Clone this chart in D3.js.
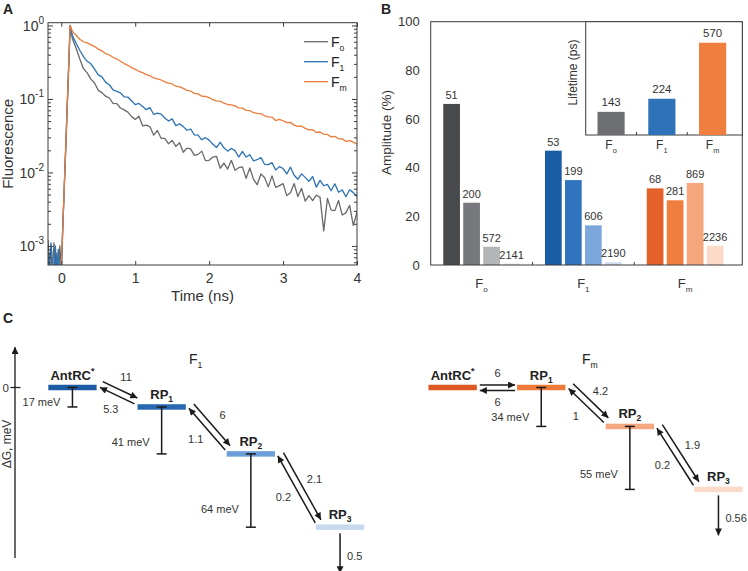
<!DOCTYPE html>
<html><head><meta charset="utf-8">
<script src="https://cdn.jsdelivr.net/npm/d3@7/dist/d3.min.js"></script>
<style>
html,body{margin:0;padding:0;background:#fff;}
svg{display:block;font-family:"Liberation Sans",Arial,Helvetica,sans-serif;}
</style></head><body>
<svg id="chart" width="748" height="571"></svg>
<script>
// ================= DATA =================
// Panel A: fluorescence decays (time in ns)
const timeNs = [-0.18,-0.16,-0.14,-0.12,-0.10,-0.08,-0.06,-0.04,-0.02,0.00,
  0.02,0.04,0.06,0.08,0.10,0.12,
  0.15,0.20,0.25,0.30,0.35,0.40,0.45,0.50,0.55,0.60,0.65,0.70,0.75,0.80,0.85,0.90,0.95,1.00,
  1.05,1.10,1.15,1.20,1.25,1.30,1.35,1.40,1.45,1.50,1.55,1.60,1.65,1.70,1.75,1.80,1.85,1.90,1.95,2.00,
  2.05,2.10,2.15,2.20,2.25,2.30,2.35,2.40,2.45,2.50,2.55,2.60,2.65,2.70,2.75,2.80,2.85,2.90,2.95,3.00,
  3.05,3.10,3.15,3.20,3.25,3.30,3.35,3.40,3.45,3.50,3.55,3.60,3.65,3.70,3.75,3.80,3.85,3.90,3.95,4.00];
const fluorFo = [0.0012,0.0006,0.0009,0.0004,0.0011,0.0005,0.0008,0.0004,0.0010,0.0005,
  0.0018,0.0063,0.022,0.079,0.28,1.0,
  0.658,0.49,0.350,0.258,0.226,0.186,0.165,0.131,0.122,0.109,
  0.103,0.0871,0.0864,0.0753,0.0711,0.0661,0.0575,0.0527,0.0581,0.0429,
  0.0441,0.0417,0.0321,0.0372,0.0292,0.0291,0.0245,0.0273,0.0226,0.0254,
  0.0188,0.0214,0.0209,0.0171,0.0176,0.0195,0.0145,0.0146,0.0162,0.0165,
  0.0114,0.0134,0.0111,0.0146,0.0107,0.0116,0.0119,0.00830,0.0115,0.00804,
  0.00680,0.00954,0.00855,0.00636,0.00897,0.00627,0.00662,0.00705,0.00484,0.00529,
  0.00705,0.00470,0.00608,0.00406,0.00483,0.00413,0.00492,0.00457,0.00160,0.00444,
  0.00307,0.00302,0.00415,0.00263,0.00282,0.00357,0.00190,0.00286];
const fluorF1 = [0.0008,0.0004,0.0011,0.0006,0.0004,0.0010,0.0004,0.0009,0.0005,0.0004,
  0.0018,0.0063,0.022,0.079,0.28,1.0,
  0.73,0.57,0.46,0.377,0.325,0.301,0.255,0.213,0.200,0.168,
  0.156,0.133,0.127,0.121,0.107,0.106,0.0945,0.0836,0.0867,0.0791,
  0.0715,0.0760,0.0615,0.0640,0.0621,0.0551,0.0501,0.0535,0.0434,0.0459,
  0.0420,0.0375,0.0390,0.0324,0.0321,0.0278,0.0297,0.0275,0.0242,0.0219,
  0.0257,0.0216,0.0195,0.0212,0.0198,0.0162,0.0193,0.0162,0.0174,0.0144,
  0.0149,0.0159,0.0129,0.0128,0.0136,0.0108,0.0120,0.0113,0.00953,0.0118,
  0.00917,0.00809,0.00955,0.00857,0.00756,0.00880,0.00630,0.00780,0.00659,0.00688,
  0.00563,0.00700,0.00537,0.00578,0.00466,0.00580,0.00531,0.00471];
const fluorFm = [0.0003,0.0003,0.0003,0.0003,0.0003,0.0003,0.0003,0.0003,0.0003,0.0005,
  0.0018,0.0063,0.022,0.079,0.28,1.0,
  0.832,0.735,0.650,0.600,0.578,0.548,0.516,0.476,0.450,0.414,
  0.396,0.369,0.349,0.326,0.303,0.287,0.267,0.253,0.238,0.228,
  0.214,0.207,0.193,0.188,0.181,0.171,0.164,0.160,0.149,0.146,
  0.139,0.131,0.128,0.119,0.117,0.109,0.108,0.104,0.0975,0.0942,
  0.0935,0.0874,0.0840,0.0832,0.0805,0.0755,0.0750,0.0700,0.0695,0.0650,
  0.0638,0.0630,0.0590,0.0570,0.0566,0.0508,0.0528,0.0505,0.0476,0.0480,
  0.0440,0.0424,0.0425,0.0398,0.0380,0.0382,0.0350,0.0355,0.0330,0.0329,
  0.0305,0.0310,0.0287,0.0286,0.0265,0.0270,0.0258,0.0242];
const seriesSub = ["o","1","m"];
const xTicksA = [0,1,2,3,4];
const yTickExpA = [0,-1,-2,-3];

// Panel B: amplitudes (%) and lifetimes (ps)
const groupSub = ["o","1","m"];
const ampFo = [66.2,25.6,7.5,0.6];
const ampF1 = [47.0,34.9,16.3,1.1];
const ampFm = [31.5,26.6,33.7,7.9];
const tauFo = [51,200,572,2141];
const tauF1 = [53,199,606,2190];
const tauFm = [68,281,869,2236];
const avgLifetime = [143,224,570];
const yTicksB = [0,20,40,60,80,100];

// Panel C: kinetic schemes
const stateNames = ["AntRC","RP","RP","RP"];
const stateSub = ["","1","2","3"];
const energyF1 = [0,-17,-58,-122];
const gapF1 = [17,41,64,null];
const fwdF1 = [11,6,2.1];
const backF1 = [5.3,1.1,0.2];
const decayF1 = 0.5;
const energyFm = [0,0,-34,-89];
const gapFm = [null,34,55,null];
const fwdFm = [6,4.2,1.9];
const backFm = [6,1,0.2];
const decayFm = 0.56;

// ================= STYLE =================
const lineColors = ["#68696b","#2b72b5","#ec7c3a"];
const barColors = [["#48494b","#77787b","#b4b5b7","#e2e2e4"],
                   ["#1b5ca7","#2f74bd","#7ca7dc","#cddcf0"],
                   ["#e4612a","#f07f3f","#f6a67c","#fbdac7"]];
const insetColors = ["#6e6f72","#2e72b9","#f07f3f"];
const levelColorsF1 = ["#1d5ca4","#2868b1","#6c9fd7","#c8daef"];
const levelColorsFm = ["#dc5a22","#ef7b3b","#f4a67e","#fbdac8"];
const axisCol = "#3a3a3a", textCol = "#333";

const svg = d3.select("#chart");
const defs = svg.append("defs");

function panelLetter(x,y,t){
  svg.append("text").attr("x",x).attr("y",y).attr("font-size",14).attr("font-weight","bold").attr("fill","#222").text(t);
}
function fText(g,x,y,sub,size,anchor,col){
  const t = g.append("text").attr("x",x).attr("y",y).attr("font-size",size)
    .attr("text-anchor",anchor||"middle").attr("fill",col||textCol);
  t.append("tspan").text("F");
  t.append("tspan").attr("font-size",size*0.62).attr("dy",size*0.32).text(sub);
  return t;
}

// ================= PANEL A =================
panelLetter(3,14,"A");
const A = {l:48,r:357,t:22.7,b:265};
const xA = d3.scaleLinear().domain([-0.18,4]).range([A.l,A.r]);
const yA = d3.scaleLog().domain([5.5e-4,1.09]).range([A.b,A.t]);
const gA = svg.append("g");
defs.append("clipPath").attr("id","clipA").append("rect")
  .attr("x",A.l).attr("y",A.t).attr("width",A.r-A.l).attr("height",A.b-A.t);

const line = d3.line().x((d,i)=>xA(timeNs[i])).y(d=>yA(d));
const seriesA = [fluorFo,fluorF1,fluorFm];
const gLines = gA.append("g").attr("clip-path","url(#clipA)");
seriesA.forEach((s,k)=>{
  gLines.append("path").datum(s).attr("d",line).attr("fill","none")
    .attr("stroke",lineColors[k]).attr("stroke-width",1.3).attr("stroke-linejoin","round");
});

const majorsA = yTickExpA.map(e=>Math.pow(10,e));
const minorsA = yA.ticks().filter(v=>!majorsA.some(m=>Math.abs(m-v)/m<1e-6));
function styleAxis(g){
  g.select(".domain").remove();
  g.selectAll(".tick line").attr("stroke",axisCol);
  g.selectAll(".tick text").attr("fill",textCol).attr("font-family",null);
}
// bottom
gA.append("g").attr("transform",`translate(0,${A.b})`)
  .call(d3.axisBottom(xA).tickValues(xTicksA).tickSizeInner(-4).tickSizeOuter(0).tickPadding(8).tickFormat(d3.format("d")))
  .call(styleAxis).call(g=>g.selectAll("text").attr("font-size",14));
// top
gA.append("g").attr("transform",`translate(0,${A.t})`)
  .call(d3.axisTop(xA).tickValues(xTicksA).tickSizeInner(-4).tickSizeOuter(0).tickFormat(""))
  .call(styleAxis);
// left majors with labels
const leftA = gA.append("g").attr("transform",`translate(${A.l},0)`)
  .call(d3.axisLeft(yA).tickValues(majorsA).tickSizeInner(-5).tickSizeOuter(0).tickFormat(""))
  .call(styleAxis);
leftA.selectAll(".tick").each(function(d,i){
  const t = d3.select(this).append("text").attr("x",-4).attr("y",0).attr("dy","0.35em")
    .attr("text-anchor","end").attr("font-size",14).attr("fill",textCol);
  t.append("tspan").text("10");
  t.append("tspan").attr("font-size",10).attr("dy",-7).text(yTickExpA[i]);
});
gA.append("g").attr("transform",`translate(${A.l},0)`)
  .call(d3.axisLeft(yA).tickValues(minorsA).tickSizeInner(-3).tickSizeOuter(0).tickFormat("")).call(styleAxis);
// right mirror
gA.append("g").attr("transform",`translate(${A.r},0)`)
  .call(d3.axisRight(yA).tickValues(majorsA).tickSizeInner(-5).tickSizeOuter(0).tickFormat("")).call(styleAxis);
gA.append("g").attr("transform",`translate(${A.r},0)`)
  .call(d3.axisRight(yA).tickValues(minorsA).tickSizeInner(-3).tickSizeOuter(0).tickFormat("")).call(styleAxis);
gA.append("rect").attr("x",A.l).attr("y",A.t).attr("width",A.r-A.l).attr("height",A.b-A.t)
  .attr("fill","none").attr("stroke",axisCol).attr("stroke-width",1);
gA.append("text").attr("x",(A.l+A.r)/2).attr("y",301).attr("text-anchor","middle")
  .attr("font-size",15).attr("fill",textCol).text("Time (ns)");
gA.append("text").attr("transform",`translate(13,${(A.t+A.b)/2}) rotate(-90)`)
  .attr("text-anchor","middle").attr("font-size",15).attr("fill",textCol).text("Fluorescence");
// legend
seriesSub.forEach((s,k)=>{
  const y = 41.7 + k*20;
  gA.append("line").attr("x1",304).attr("x2",328).attr("y1",y).attr("y2",y)
    .attr("stroke",lineColors[k]).attr("stroke-width",1.3);
  fText(gA,331,y+5,s,14,"start","#222");
});

// ================= PANEL B =================
panelLetter(381,14,"B");
const B = {l:430.7,r:742.3,t:21.7,b:265};
const gB = svg.append("g");
const xB = d3.scaleBand().domain(groupSub).range([B.l,736]).padding(0);
const xSub = d3.scaleBand().domain([0,1,2,3]).range([0,xB.bandwidth()]).paddingInner(0.165).paddingOuter(0.6275);
const yB = d3.scaleLinear().domain([0,100]).range([B.b,B.t]);
const ampAll = [ampFo,ampF1,ampFm], tauAll = [tauFo,tauF1,tauFm];
groupSub.forEach((gk,gi)=>{
  ampAll[gi].forEach((v,j)=>{
    const x = xB(gk)+xSub(j);
    gB.append("rect").attr("x",x).attr("y",yB(v)).attr("width",xSub.bandwidth())
      .attr("height",yB(0)-yB(v)).attr("fill",barColors[gi][j]);
    gB.append("text").attr("x",x+xSub.bandwidth()/2).attr("y",yB(v)-5).attr("text-anchor","middle")
      .attr("font-size",11).attr("fill",textCol).text(tauAll[gi][j]);
  });
  fText(gB,xB(gk)+xB.bandwidth()/2,288,gk,13,"middle");
});
gB.append("g").attr("transform",`translate(${B.l},0)`)
  .call(d3.axisLeft(yB).tickValues(yTicksB).tickSizeInner(0).tickSizeOuter(0).tickPadding(11))
  .call(styleAxis).call(g=>g.selectAll("text").attr("font-size",13));
// separator ticks
groupSub.slice(0,2).forEach(gk=>{
  const x = xB(gk)+xB.bandwidth();
  gB.append("line").attr("x1",x).attr("x2",x).attr("y1",B.b).attr("y2",B.b-3).attr("stroke",axisCol);
});
gB.append("rect").attr("x",B.l).attr("y",B.t).attr("width",B.r-B.l).attr("height",B.b-B.t)
  .attr("fill","none").attr("stroke",axisCol);
gB.append("text").attr("transform",`translate(391,132.5) rotate(-90)`)
  .attr("text-anchor","middle").attr("font-size",13.5).attr("fill",textCol).text("Amplitude (%)");

// inset
const I = {l:585.7,r:742.3,t:21.7,b:135};
const gI = svg.append("g");
gI.append("rect").attr("x",I.l).attr("y",I.t).attr("width",I.r-I.l).attr("height",I.b-I.t)
  .attr("fill","#fff").attr("stroke",axisCol);
const xI = d3.scaleBand().domain(groupSub).range([I.l,738]).paddingInner(0).paddingOuter(0);
const xIbar = d3.scaleBand().domain([0]).range([0,xI.bandwidth()]).padding(0.303);
const yI = d3.scaleLinear().domain([0,700]).range([I.b,I.t]);
groupSub.forEach((gk,gi)=>{
  const v = avgLifetime[gi];
  const x = xI(gk)+xIbar(0);
  gI.append("rect").attr("x",x).attr("y",yI(v)).attr("width",xIbar.bandwidth())
    .attr("height",yI(0)-yI(v)).attr("fill",insetColors[gi]);
  gI.append("text").attr("x",x+xIbar.bandwidth()/2).attr("y",yI(v)-6).attr("text-anchor","middle")
    .attr("font-size",11.5).attr("fill",textCol).text(v);
  fText(gI,xI(gk)+xI.bandwidth()/2,149,gk,12,"middle");
});
groupSub.slice(0,2).forEach(gk=>{
  const x = xI(gk)+xI.bandwidth();
  gI.append("line").attr("x1",x).attr("x2",x).attr("y1",I.b).attr("y2",I.b-3).attr("stroke",axisCol);
});
gI.append("text").attr("transform",`translate(577,72.5) rotate(-90)`)
  .attr("text-anchor","middle").attr("font-size",12).attr("fill",textCol).text("Lifetime (ps)");

// ================= PANEL C =================
panelLetter(3,323,"C");
const gC = svg.append("g");
const yC = d3.scaleLinear().domain([0,-130]).range([387.5,387.5+130*1.145]);
const levelW = 48.3;
defs.append("marker").attr("id","ah").attr("viewBox","0 0 10 10").attr("refX",10).attr("refY",5)
  .attr("markerWidth",8).attr("markerHeight",7).attr("markerUnits","userSpaceOnUse").attr("orient","auto")
  .append("path").attr("d","M0,0L10,5L0,10z").attr("fill","#1a1a1a");
defs.append("marker").attr("id","ahBig").attr("viewBox","0 0 10 10").attr("refX",10).attr("refY",5)
  .attr("markerWidth",9).attr("markerHeight",7).attr("markerUnits","userSpaceOnUse").attr("orient","auto")
  .append("path").attr("d","M0,0L10,5L0,10z").attr("fill","#1a1a1a");

// y axis of C
gC.append("line").attr("x1",15).attr("x2",15).attr("y1",558).attr("y2",347)
  .attr("stroke","#1a1a1a").attr("stroke-width",1.3).attr("marker-end","url(#ahBig)");
gC.append("line").attr("x1",10.5).attr("x2",20.5).attr("y1",yC(0)).attr("y2",yC(0)).attr("stroke","#1a1a1a").attr("stroke-width",1.2);
gC.append("text").attr("x",9).attr("y",yC(0)).attr("dy","0.35em").attr("text-anchor","end")
  .attr("font-size",11.5).attr("fill",textCol).text("0");
gC.append("text").attr("transform",`translate(11,444) rotate(-90)`).attr("text-anchor","middle")
  .attr("font-size",12).attr("fill",textCol).text("\u0394G, meV");

function drawScheme(cfg){
  const xL = d3.scaleLinear().domain([0,3]).range([cfg.x0,cfg.x0+3*cfg.step]);
  const g = gC.append("g");
  fText(g,cfg.titleX,364,cfg.title,14,"start","#222");
  const lv = cfg.energy.map((e,i)=>({x:xL(i),y:yC(e),cx:xL(i)+levelW/2}));
  // levels
  lv.forEach((p,i)=>{
    g.append("rect").attr("x",p.x).attr("y",p.y-2.75).attr("width",levelW).attr("height",5.5)
      .attr("fill",cfg.colors[i]);
    const t = g.append("text").attr("x",p.cx).attr("y",p.y-8).attr("text-anchor","middle")
      .attr("font-size",13).attr("font-weight","bold").attr("fill","#222");
    t.append("tspan").text(stateNames[i]);
    if(i===0){ t.append("tspan").attr("font-size",9).attr("dy",-6).text("*"); }
    else { t.append("tspan").attr("font-size",8.5).attr("dy",3).text(stateSub[i]); }
  });
  // error bars (energy gaps)
  lv.forEach((p,i)=>{
    const gap = cfg.gap[i]; if(gap==null) return;
    const y0 = yC(cfg.energy[i]), y1 = yC(cfg.energy[i]-gap);
    const eg = g.append("g").attr("stroke","#1a1a1a").attr("stroke-width",1.5);
    eg.append("line").attr("x1",p.cx).attr("x2",p.cx).attr("y1",y0).attr("y2",y1);
    eg.append("line").attr("x1",p.cx-5).attr("x2",p.cx+5).attr("y1",y0).attr("y2",y0);
    eg.append("line").attr("x1",p.cx-5).attr("x2",p.cx+5).attr("y1",y1).attr("y2",y1);
    g.append("text").attr("x",p.cx-12).attr("y",y0+0.75*(y1-y0)+4).attr("text-anchor","end")
      .attr("font-size",11).attr("fill",textCol).text(gap+" meV");
  });
  // transitions
  for(let i=0;i<3;i++){
    const p0=[lv[i].x+levelW,lv[i].y], p1=[lv[i+1].x,lv[i+1].y];
    const dx=p1[0]-p0[0], dy=p1[1]-p0[1], L=Math.hypot(dx,dy);
    const ux=dx/L, uy=dy/L, nx=uy, ny=-ux;
    const flat = Math.abs(dy)<1;
    const fo = flat?2.5:8, bo = flat?-3:1.5, s0=3, s1=flat?2:4;
    const f0=[p0[0]+ux*s0+nx*fo,p0[1]+uy*s0+ny*fo], f1=[p1[0]-ux*s1+nx*fo,p1[1]-uy*s1+ny*fo];
    const b0=[p1[0]-ux*s1+nx*bo,p1[1]-uy*s1+ny*bo], b1=[p0[0]+ux*s0+nx*bo,p0[1]+uy*s0+ny*bo];
    [[f0,f1],[b0,b1]].forEach(([a,b])=>{
      g.append("line").attr("x1",a[0]).attr("y1",a[1]).attr("x2",b[0]).attr("y2",b[1])
        .attr("stroke","#1a1a1a").attr("stroke-width",1.5).attr("marker-end","url(#ah)");
    });
    const fm=[(f0[0]+f1[0])/2,(f0[1]+f1[1])/2], bm=[(b0[0]+b1[0])/2,(b0[1]+b1[1])/2];
    const fl = flat?12:14, bl = flat?12:15;
    g.append("text").attr("x",fm[0]+nx*fl).attr("y",fm[1]+ny*fl).attr("dy","0.35em").attr("text-anchor","middle")
      .attr("font-size",11).attr("fill",textCol).text(cfg.fwd[i]);
    g.append("text").attr("x",bm[0]-nx*bl).attr("y",bm[1]-ny*bl).attr("dy","0.35em").attr("text-anchor","middle")
      .attr("font-size",11).attr("fill",textCol).text(cfg.back[i]);
  }
  // decay of last state
  const last = lv[3];
  g.append("line").attr("x1",last.cx).attr("x2",last.cx).attr("y1",last.y+6).attr("y2",last.y+46)
    .attr("stroke","#1a1a1a").attr("stroke-width",1.5).attr("marker-end","url(#ah)");
  g.append("text").attr("x",last.cx+7).attr("y",last.y+29).attr("dy","0.35em").attr("text-anchor","start")
    .attr("font-size",11).attr("fill",textCol).text(cfg.decay);
}
drawScheme({x0:48.3,step:89.2,energy:energyF1,gap:gapF1,fwd:fwdF1,back:backF1,decay:decayF1,
  colors:levelColorsF1,title:"1",titleX:189});
drawScheme({x0:428.5,step:88.6,energy:energyFm,gap:gapFm,fwd:fwdFm,back:backFm,decay:decayFm,
  colors:levelColorsFm,title:"m",titleX:582});
</script></body></html>
